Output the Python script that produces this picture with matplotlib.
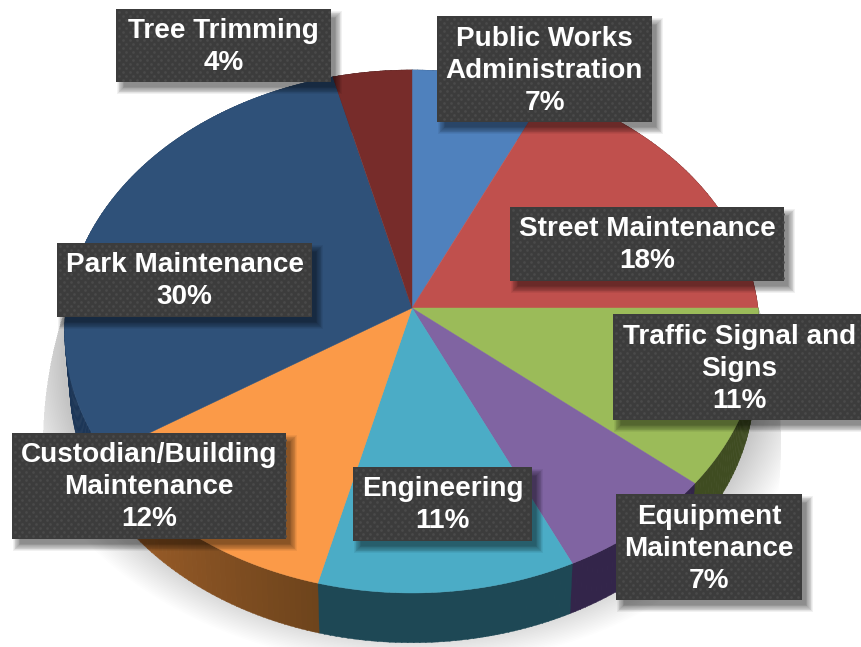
import numpy as np
import matplotlib
matplotlib.use("Agg")
import matplotlib.pyplot as plt
from matplotlib.colors import to_rgb
from matplotlib.patches import Rectangle, Polygon

plt.rcParams['font.family'] = ['Liberation Sans', 'DejaVu Sans']

categories = ["Public Works\nAdministration", "Street Maintenance", "Traffic Signal and\nSigns",
              "Equipment\nMaintenance", "Engineering", "Custodian/Building\nMaintenance",
              "Park Maintenance", "Tree Trimming"]
values = [7, 18, 11, 7, 11, 12, 30, 4]
top_colors = ["#4f81bd", "#c0504d", "#9bbb59", "#8064a2", "#4bacc6", "#fb9a48", "#2f5179", "#772c2a"]
side_start = ["#1f3350", "#4d201f", "#3f4c21", "#33254a", "#1e4855", "#6e441c", "#1c3657", "#301211"]
side_end = ["#1f3350", "#4d201f", "#3f4c21", "#33254a", "#1e4855", "#a4622b", "#1c3657", "#301211"]
# label boxes: left, top, right, bottom in pixels
boxes = [(437, 16, 652, 122), (510, 207, 784, 281), (613, 314, 866, 420), (616, 494, 802, 600),
         (353, 467, 532, 541), (12, 433, 286, 539), (57, 243, 312, 317), (116, 9, 331, 82)]

CX, CY, RX, A, K, DEPTH = 412, 308, 346, 259.4, 0.0898, 54


def rim(theta, dy=0, scale=1.0):
    u, v = np.sin(theta), np.cos(theta)
    d = 1 + K * v
    return CX + scale * RX * u / d, CY + dy - scale * A * v / d


fig = plt.figure(figsize=(8.61, 6.47), dpi=100)
ax = fig.add_axes([0, 0, 1, 1])
ax.set_xlim(0, 861)
ax.set_ylim(647, 0)
ax.axis('off')

# soft drop shadow under the pie, cut by a hard outer edge
tt = np.linspace(0, 2 * np.pi, 361)
ex, ey = 412 + 369 * np.sin(tt), 445 - 400 * np.cos(tt)
ey = np.maximum(ey, 285)
clip = Polygon(np.c_[ex, ey], closed=True, transform=ax.transData)
N = 30
for i in range(N):
    f = 1 - i / N
    sx, sy = rim(tt, dy=28, scale=1.0 + 0.16 * f)
    p = ax.fill(sx, sy, color='black', alpha=0.0085, lw=0, zorder=1)[0]
    p.set_clip_path(clip)

# walls and top face
edges = np.cumsum([0] + values) / sum(values) * 2 * np.pi
for i in range(len(values)):
    th = np.linspace(edges[i], edges[i + 1], max(int(values[i] * 4), 6))
    c0, c1 = np.array(to_rgb(side_start[i])), np.array(to_rgb(side_end[i]))
    for j in range(len(th) - 1):
        a, b = th[j], th[j + 1] + 0.002
        x0, y0 = rim(a)
        x1, y1 = rim(b)
        x2, y2 = rim(b, DEPTH, 0.985)
        x3, y3 = rim(a, DEPTH, 0.985)
        t = j / max(len(th) - 2, 1)
        ax.fill([x0, x1, x2, x3], [y0, y1, y2, y3], color=c0 + (c1 - c0) * t, lw=0.3, zorder=2)
for i in range(len(values)):
    th = np.linspace(edges[i], edges[i + 1], 120)
    x, y = rim(th)
    ax.fill(np.r_[CX, x], np.r_[CY, y], color=top_colors[i], lw=0.3, zorder=3)

# label boxes
for (l, t, r, b), name, val in zip(boxes, categories, values):
    n = 10
    for k in range(n):
        g = 5 - k * 0.8
        ax.add_patch(Rectangle((l + 6 - g, t + 7 - g), r - l + 2 * g, b - t + 2 * g, fc='black',
                               ec='none', alpha=0.055, zorder=4))
    ax.add_patch(Rectangle((l, t), r - l, b - t, fc='#3c3c3c', ec='none', zorder=5))
    gx, gy = np.meshgrid(np.arange(l + 3, r - 1, 7.0), np.arange(t + 3, b - 1, 4.0))
    gx = gx + 3.5 * (np.arange(gx.shape[0])[:, None] % 2)
    keep = gx < r - 1
    ax.scatter(gx[keep], gy[keep], s=4, c='#4a4a4a', marker='o', lw=0, zorder=6)
    ax.text((l + r) / 2, (t + b) / 2 + 1.5, f"{name}\n{val}%", color='white', fontsize=20.1,
            fontweight='bold', ha='center', va='center', linespacing=1.3, zorder=7)

fig.savefig("out.png", dpi=100)
